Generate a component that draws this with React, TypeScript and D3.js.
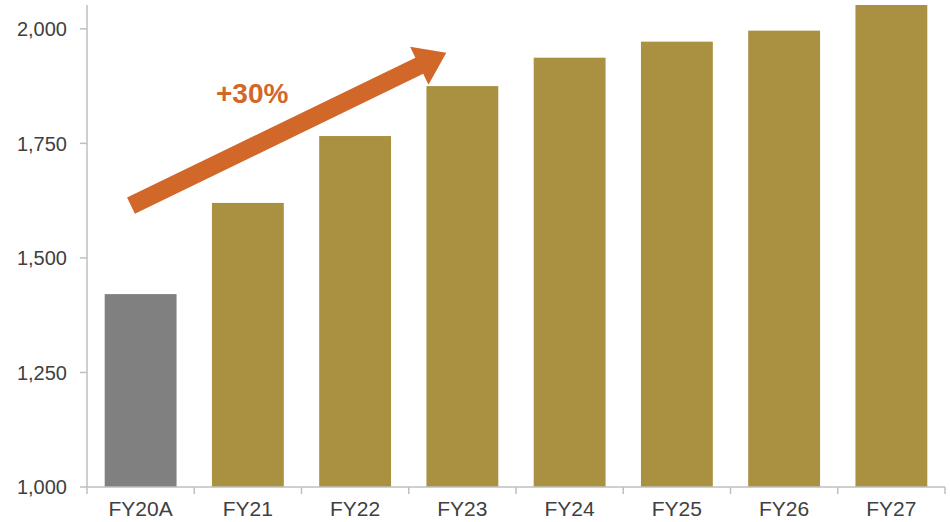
import React from "react";
import * as d3 from "d3";

const categories = ["FY20A", "FY21", "FY22", "FY23", "FY24", "FY25", "FY26", "FY27"];
const values = [1421, 1620, 1766, 1875, 1937, 1972, 1996, 2052];
const actualFlags = [true, false, false, false, false, false, false, false];
const yTicks = [1000, 1250, 1500, 1750, 2000];
const growthLabel = "+30%";

const W = 950;
const H = 522;
const M = { left: 87, right: 5, top: 5, bottom: 35 };

export default function App() {
  const x = d3
    .scaleBand<string>()
    .domain(categories)
    .range([M.left, W - M.right])
    .paddingInner(0.33)
    .paddingOuter(0.165);
  const xb = d3.scaleBand<string>().domain(categories).range([M.left, W - M.right]);
  const y = d3.scaleLinear().domain([1000, 2052]).range([H - M.bottom, M.top]);
  const fmt = d3.format(",");

  // arrow in data space
  const x0 = (xb("FY20A") as number) + xb.bandwidth() * 0.41;
  const y0 = y(1614);
  const x1 = (xb("FY23") as number) + xb.bandwidth() * 0.35;
  const y1 = y(1948);
  const ang = Math.atan2(y1 - y0, x1 - x0);
  const len = Math.hypot(x1 - x0, y1 - y0);
  const sw = 9; // half shaft width
  const headLen = 30;
  const headW = 21;
  const pts: [number, number][] = [
    [0, -sw],
    [len - headLen, -sw],
    [len - headLen, -headW],
    [len, 0],
    [len - headLen, headW],
    [len - headLen, sw],
    [0, sw],
  ];
  const arrowPath =
    d3.line()(
      pts.map(([a, b]) => [
        x0 + a * Math.cos(ang) - b * Math.sin(ang),
        y0 + a * Math.sin(ang) + b * Math.cos(ang),
      ])
    ) + "Z";

  const axisColor = "#bfbfbf";
  const textColor = "#404040";
  const font = "'Liberation Sans', Arial, sans-serif";

  return (
    <svg
      width={W}
      height={H}
      style={{ position: "absolute", left: 0, top: 0, background: "#fff" }}
      fontFamily={font}
    >
      {categories.map((c, i) => (
        <rect
          key={c}
          x={x(c)}
          y={y(values[i])}
          width={x.bandwidth()}
          height={y(1000) - y(values[i])}
          fill={actualFlags[i] ? "#808080" : "#A99141"}
        />
      ))}
      {/* y axis */}
      <line x1={M.left} x2={M.left} y1={M.top} y2={y(1000)} stroke={axisColor} strokeWidth={1.5} />
      {yTicks.map((t) => (
        <g key={t}>
          <line x1={M.left - 7} x2={M.left} y1={y(t)} y2={y(t)} stroke={axisColor} strokeWidth={1.5} />
          <text x={M.left - 20} y={y(t)} dy="0.36em" textAnchor="end" fontSize={20} fill={textColor}>
            {fmt(t)}
          </text>
        </g>
      ))}
      {/* x axis */}
      <line x1={M.left} x2={W - M.right} y1={y(1000)} y2={y(1000)} stroke={axisColor} strokeWidth={1.5} />
      {[...categories.map((c) => xb(c) as number), W - M.right].map((v, i) => (
        <line key={i} x1={v} x2={v} y1={y(1000)} y2={y(1000) + 7} stroke={axisColor} strokeWidth={1.5} />
      ))}
      {categories.map((c) => (
        <text
          key={c}
          x={(xb(c) as number) + xb.bandwidth() / 2}
          y={H - 6}
          textAnchor="middle"
          fontSize={21}
          fill={textColor}
        >
          {c}
        </text>
      ))}
      {/* arrow */}
      <path d={arrowPath} fill="#D2672A" />
      <text
        x={(xb("FY21") as number) + xb.bandwidth() * 0.54}
        y={y(1838)}
        textAnchor="middle"
        fontSize={28}
        fontWeight="bold"
        fill="#D2672A"
      >
        {growthLabel}
      </text>
    </svg>
  );
}
